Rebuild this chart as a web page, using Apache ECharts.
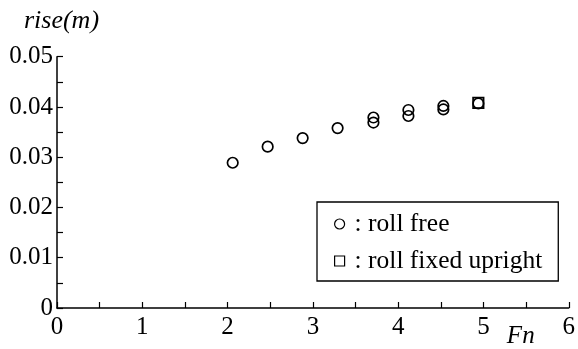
<!DOCTYPE html>
<html>
<head>
<meta charset="utf-8">
<script src="https://cdn.jsdelivr.net/npm/echarts@6/dist/echarts.min.js"></script>
<style>
  html, body { margin: 0; padding: 0; background: #fff; }
  #chart { width: 578px; height: 349px; }
</style>
</head>
<body>
<div id="chart"></div>
<script>
// Froude number vs. rise, roll free and roll fixed upright
const freeFn   = [2.06, 2.47, 2.88, 3.29, 3.71, 3.71, 4.12, 4.12, 4.53, 4.53, 4.94];
const freeRise = [0.0289, 0.0321, 0.0338, 0.0358, 0.0379, 0.0369, 0.0394, 0.0382, 0.0402, 0.0395, 0.0407];
const fixedFn   = [4.94];
const fixedRise = [0.0408];
const seriesNames = [': roll free', ': roll fixed upright'];
const xTicks = [0, 1, 2, 3, 4, 5, 6];
const yTicks = [0, 0.01, 0.02, 0.03, 0.04, 0.05];

const FONT = '"Liberation Serif", "Times New Roman", serif';
const pairs = (xs, ys) => xs.map((x, i) => [x, ys[i]]);

const axisCommon = {
  axisLine: { show: true, onZero: false, lineStyle: { color: '#000', width: 1.5 } },
  axisTick: { show: true, inside: true, length: 6, lineStyle: { color: '#000', width: 1.2 } },
  minorTick: { show: true, splitNumber: 2, length: 6, lineStyle: { color: '#000', width: 1.2 } },
  splitLine: { show: false },
  axisLabel: { color: '#000', fontFamily: FONT, fontSize: 25 }
};

const chart = echarts.init(document.getElementById('chart'), null, { renderer: 'canvas' });
chart.setOption({
  animation: false,
  backgroundColor: '#fff',
  grid: { left: 57, right: 9, top: 56.7, bottom: 37.3, containLabel: false },
  xAxis: Object.assign({}, axisCommon, {
    type: 'value',
    min: xTicks[0], max: xTicks[xTicks.length - 1], interval: 1,
    axisLabel: Object.assign({}, axisCommon.axisLabel, { margin: 7, showMaxLabel: true, showMinLabel: true }),
    name: 'Fn',
    nameLocation: 'end',
    nameGap: -48,
    nameTextStyle: {
      fontFamily: FONT, fontStyle: 'italic', fontSize: 25, color: '#000',
      align: 'center', verticalAlign: 'top', lineHeight: 26, padding: [15, 0, 0, 0]
    }
  }),
  yAxis: Object.assign({}, axisCommon, {
    type: 'value',
    min: yTicks[0], max: yTicks[yTicks.length - 1], interval: 0.01,
    axisLabel: Object.assign({}, axisCommon.axisLabel, {
      margin: 4, showMaxLabel: true, showMinLabel: true,
      formatter: v => (v === 0 ? '0' : v.toFixed(2))
    }),
    name: 'rise(m)',
    nameLocation: 'end',
    nameGap: 23,
    nameTextStyle: {
      fontFamily: FONT, fontStyle: 'italic', fontSize: 26, color: '#000',
      align: 'center', padding: [0, 0, 0, 9]
    }
  }),
  legend: {
    orient: 'vertical',
    left: 317, top: 202,
    padding: [9, 16, 7, 17],
    itemGap: 11,
    itemWidth: 10, itemHeight: 10,
    borderColor: '#000', borderWidth: 1.3,
    backgroundColor: '#fff',
    textStyle: { fontFamily: FONT, fontSize: 25.5, color: '#000', lineHeight: 26, padding: [0, 0, 0, 5] },
    data: [
      { name: seriesNames[0], icon: 'circle', itemStyle: { color: '#fff', borderColor: '#000', borderWidth: 1.2 } },
      { name: seriesNames[1], icon: 'rect', itemStyle: { color: '#fff', borderColor: '#000', borderWidth: 1.2 } }
    ]
  },
  series: [
    {
      name: seriesNames[0], type: 'scatter', symbol: 'circle', symbolSize: 10.5,
      itemStyle: { color: 'rgba(255,255,255,0)', borderColor: '#000', borderWidth: 1.7, opacity: 1 },
      data: pairs(freeFn, freeRise), z: 3
    },
    {
      name: seriesNames[1], type: 'scatter', symbol: 'rect', symbolSize: 10.5,
      itemStyle: { color: 'rgba(255,255,255,0)', borderColor: '#000', borderWidth: 1.7, opacity: 1 },
      data: pairs(fixedFn, fixedRise), z: 2
    }
  ]
});
</script>
</body>
</html>
